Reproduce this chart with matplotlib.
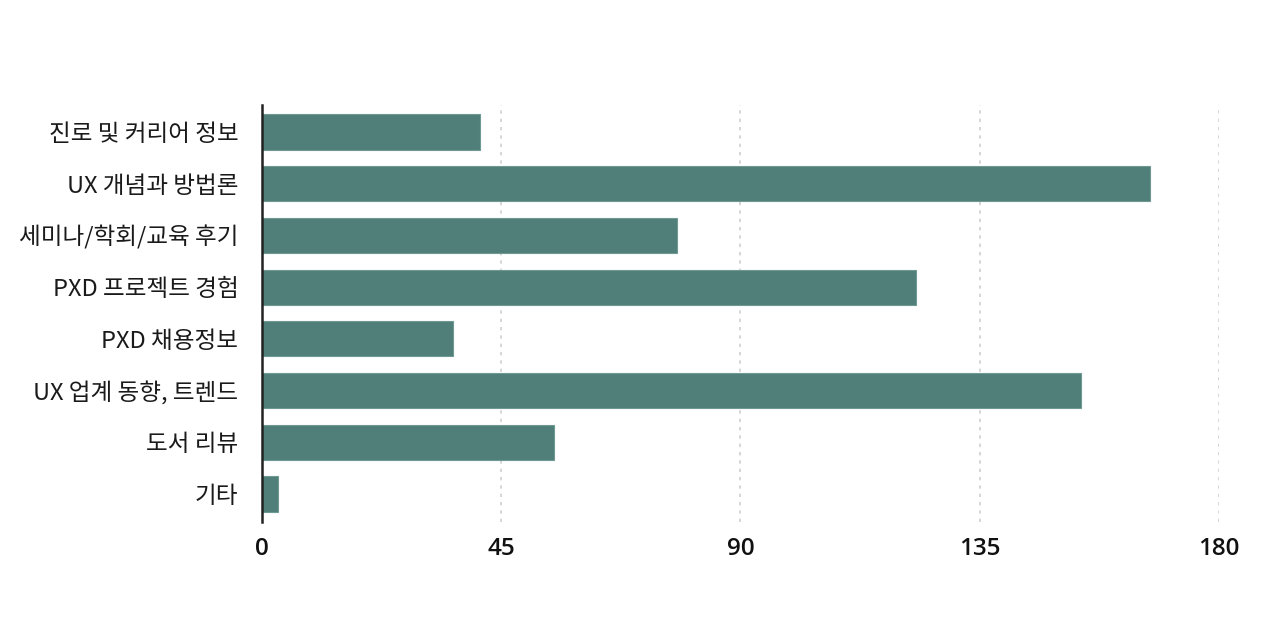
import matplotlib
matplotlib.use("Agg")
import matplotlib.pyplot as plt

plt.rcParams['font.family'] = ['Noto Sans CJK KR', 'DejaVu Sans']

categories = ['진로 및 커리어 정보', 'UX 개념과 방법론', '세미나/학회/교육 후기', 'PXD 프로젝트 경험',
              'PXD 채용정보', 'UX 업계 동향, 트렌드', '도서 리뷰', '기타']
values = [41, 167, 78, 123, 36, 154, 55, 3]
xticks = [0, 45, 90, 135, 180]

fig = plt.figure(figsize=(12.8, 6.38), dpi=100)
ax = fig.add_axes([0.2047, 0.1818, 0.7476, 0.6536])

y = list(range(len(categories)))
ax.barh(y, values, height=0.68, color='#4f7f78', edgecolor='#6f9a93', linewidth=0.8, zorder=3)

ax.set_xlim(0, 180)
ax.set_ylim(7.54, -0.52)
ax.set_yticks(y)
ax.set_yticklabels(categories, fontsize=17, color='#1a1a1a')
ax.set_xticks(xticks)
ax.set_xticklabels([str(t) for t in xticks], fontsize=17.5, color='#111111',
                   family=['Open Sans', 'DejaVu Sans'], fontweight=600)
ax.tick_params(axis='both', length=0)
ax.tick_params(axis='y', pad=17)
ax.tick_params(axis='x', pad=11)

ax.grid(axis='x', linestyle=(0, (2, 3)), color='#d0d0d0', linewidth=1.2, zorder=0)
for s in ['top', 'right', 'bottom']:
    ax.spines[s].set_visible(False)
ax.spines['left'].set_color('#222222')
ax.spines['left'].set_linewidth(1.8)
ax.spines['left'].set_zorder(4)

fig.savefig('out.png', dpi=100)
